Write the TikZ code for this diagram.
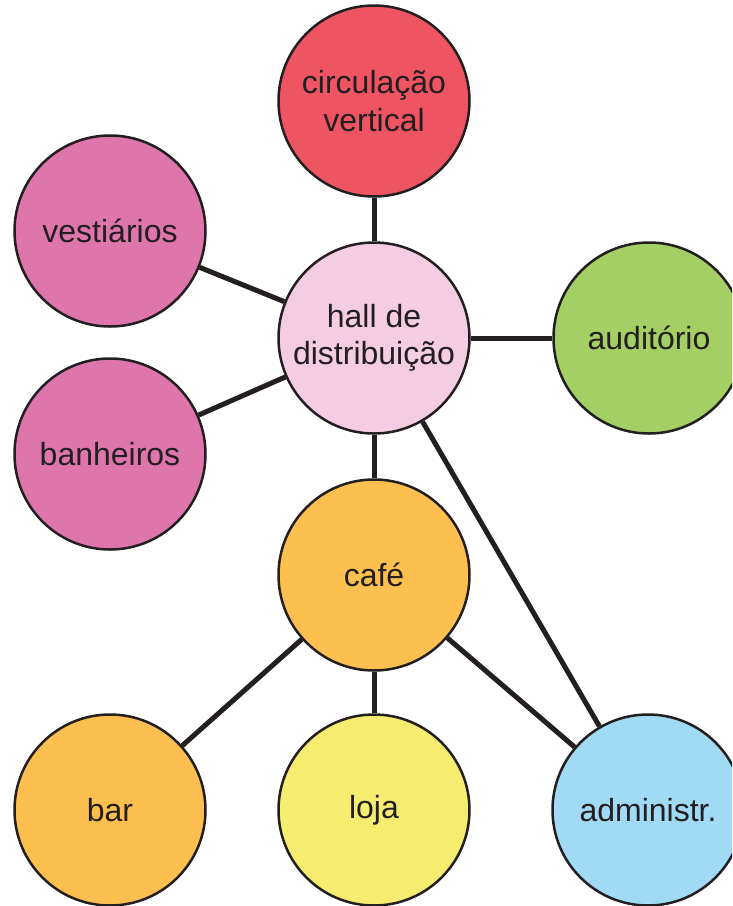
\documentclass[tikz,border=0pt]{standalone}
\usepackage{fontspec}
\setmainfont{Liberation Sans}
\definecolor{ink}{HTML}{231F20}
\definecolor{cred}{HTML}{EF5463}
\definecolor{cpink}{HTML}{DE76AC}
\definecolor{clpink}{HTML}{F5CDE2}
\definecolor{cgreen}{HTML}{A4CF64}
\definecolor{corange}{HTML}{FDC050}
\definecolor{cyellow}{HTML}{F6EC70}
\definecolor{cblue}{HTML}{A0DAF4}
\tikzset{
  room/.style={circle, draw=ink, line width=2.5pt, minimum size=191pt, inner sep=0pt,
    text=ink, align=center, font=\fontsize{32}{37.5}\selectfont},
  link/.style={draw=ink, line width=5pt}
}
\begin{document}
\begin{tikzpicture}[x=1pt,y=-1pt]
\useasboundingbox (0,0) rectangle (732,906);
\begin{scope}
\clip (0,0) rectangle (732,906);
\node[room, fill=cred] (circ) at (374,101) {circulação\\vertical};
\node[room, fill=cpink] (vest) at (110,231) {vestiários};
\node[room, fill=clpink] (hall) at (374,338) {hall de\\distribuição};
\node[room, fill=cgreen] (aud) at (649,338) {auditório};
\node[room, fill=cpink] (banh) at (110,454) {banheiros};
\node[room, fill=corange] (cafe) at (374,575) {café};
\node[room, fill=corange] (bar) at (110,810) {bar};
\node[room, fill=cyellow] (loja) at (374,810) {loja};
\node[room, fill=cblue] (adm) at (648,810) {administr.};
\draw[link] (circ) -- (hall);
\draw[link] (vest) -- (hall);
\draw[link] (banh) -- (hall);
\draw[link] (hall) -- (aud);
\draw[link] (hall) -- (cafe);
\draw[link] (hall) -- (adm);
\draw[link] (cafe) -- (bar);
\draw[link] (cafe) -- (loja);
\draw[link] (cafe) -- (adm);
\end{scope}
\end{tikzpicture}
\end{document}
